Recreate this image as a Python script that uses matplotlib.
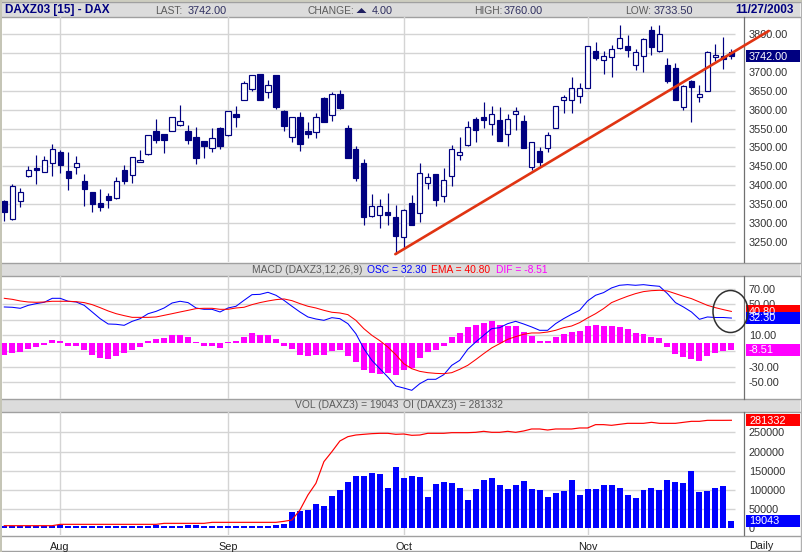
import matplotlib
matplotlib.use("Agg")
import matplotlib.pyplot as plt
from matplotlib.patches import Rectangle, Ellipse, Polygon

plt.rcParams['font.family'] = ['Liberation Sans', 'DejaVu Sans']

opens = [3357,3309,3357,3423,3445,3434,3458,3488,3437,3447,
         3410,3381,3354,3371,3365,3439,3426,3462,3482,3543,
         3535,3543,3559,3543,3527,3516,3498,3552,3532,3590,
         3627,3654,3694,3646,3691,3598,3529,3582,3543,3542,
         3630,3585,3643,3552,3495,3458,3317,3320,3329,3315,
         3262,3354,3325,3407,3429,3370,3423,3479,3506,3575,
         3582,3561,3572,3535,3590,3569,3447,3490,3498,3551,
         3625,3625,3636,3658,3755,3731,3739,3763,3768,3718,
         3742,3811,3757,3720,3712,3606,3675,3635,3651,3739,
         3742,3752]
closes = [3330,3397,3381,3439,3441,3466,3495,3454,3420,3460,
          3391,3349,3343,3361,3410,3412,3476,3468,3532,3521,
          3521,3582,3569,3521,3471,3505,3524,3505,3596,3582,
          3670,3691,3627,3665,3608,3558,3580,3510,3536,3582,
          3568,3643,3605,3473,3420,3316,3344,3344,3322,3266,
          3333,3295,3431,3421,3361,3413,3495,3487,3553,3547,
          3574,3590,3518,3575,3596,3499,3514,3462,3532,3609,
          3633,3657,3659,3768,3738,3742,3760,3789,3759,3752,
          3787,3767,3800,3677,3627,3662,3661,3641,3752,3744,
          3734,3742]
highs = [3361,3403,3392,3451,3480,3477,3509,3493,3488,3477,
         3430,3382,3390,3379,3422,3453,3476,3493,3533,3575,
         3537,3582,3613,3559,3554,3516,3552,3553,3598,3610,
         3676,3693,3696,3679,3692,3599,3582,3593,3567,3592,
         3634,3647,3652,3559,3504,3469,3376,3362,3379,3347,
         3337,3373,3459,3432,3430,3445,3506,3528,3570,3582,
         3620,3610,3606,3590,3607,3586,3515,3501,3541,3611,
         3639,3686,3670,3768,3780,3756,3772,3825,3798,3760,
         3789,3821,3825,3736,3723,3666,3679,3665,3756,3774,
         3793,3760]
lows = [3306,3308,3343,3422,3404,3434,3425,3433,3388,3430,
        3346,3330,3332,3340,3364,3404,3407,3461,3481,3513,
        3486,3543,3558,3510,3457,3473,3489,3497,3531,3555,
        3626,3651,3625,3632,3603,3543,3515,3491,3524,3526,
        3568,3571,3601,3473,3412,3295,3316,3287,3295,3217,
        3232,3295,3303,3391,3346,3356,3399,3467,3505,3515,
        3552,3534,3518,3505,3547,3499,3441,3447,3489,3551,
        3592,3592,3619,3658,3732,3696,3688,3762,3741,3706,
        3701,3744,3752,3670,3626,3599,3568,3621,3651,3730,
        3708,3733.5]

osc_line = [46.5,46.1,44.8,48.6,50.8,52.5,57.6,57.6,53.8,52.9,
            48.6,40.1,31.5,24.7,24.3,23,28.1,31.5,37.9,40.9,
            45.2,51.6,53.8,52.1,45.2,43.5,43.5,40.1,45.2,47.4,
            55,62.3,62.7,65.3,61.5,55,47.4,40.1,33.7,31.1,
            29.4,32.8,31.5,25.1,12.3,-6.9,-21.9,-32.6,-43.2,-54.8,
            -57.4,-60.3,-51.8,-46.2,-46.2,-40.3,-28.3,-21.9,-7.8,1.6,
            10.2,18.7,20,25.1,28.1,24.7,20.9,16.6,16.6,25.1,
            31.5,37.1,42.2,54.2,61.5,64.9,70.9,74.3,75.1,74.3,
            75.1,73.9,73,63.6,52.1,46.5,40.1,30.7,33.7,33,
            33,32.3]
ema_line = [57.6,56.3,54.2,52.9,52.5,52.9,53.8,53.8,53.8,53.3,
            52.1,49.5,45.6,41.4,37.9,35.4,33.2,33.2,33.2,33.7,
            35.8,37.9,40.1,42.2,44.4,44.8,44.8,43.5,43.5,45.2,
            46.1,49.5,52.1,54.2,55.9,56.8,54.6,50.8,47.4,45.2,
            42.2,39.7,38.8,36.7,29.4,18.7,10.2,3.3,-4.8,-14.6,
            -26.2,-32.6,-36,-37.7,-38.6,-39,-37.7,-33.4,-28.3,-21,
            -13.3,-6,-0.5,5,8.5,11.5,13.2,13.2,14.4,16.6,
            20,22.1,26.4,32.4,37.9,44.4,52.1,56.3,60.2,63.6,
            66.2,67.4,67.9,67,63.6,60.2,57.2,52.9,48.6,45.6,
            43.1,40.8]
dif_bars = [-15,-12,-11,-7,-5,-2,4.3,3,-3,-3,
            -8.5,-15,-19,-20,-16,-13,-8.5,-4.7,3,5.6,
            7,10.7,10.7,8,2,-3,-3,-6,1.7,3,
            8,13,10.7,10.7,5.6,-3,-7,-15,-16,-15,
            -15,-10,-8,-16,-24,-34,-38,-39,-38,-41,
            -34,-32,-19,-11,-8.5,-3.4,8,13,21,23.5,
            26,28.6,23.5,22,22,14.5,9.4,3,3,8,
            12,14.5,16,22,23.5,22.6,22.6,21,18.4,13,
            12,8,7,-4.7,-13.7,-17.5,-20,-22.6,-16,-12.4,
            -9.8,-8.51]
volume = [5500,5500,5500,5500,5500,5500,5500,8800,5000,5000,
          5000,5000,5000,5000,5000,5000,5000,5000,5000,8000,
          5000,5000,5000,8000,8000,5000,5000,5000,5000,5000,
          5000,5000,5000,5000,8000,10500,42500,45100,48600,63400,
          58200,84200,99800,120700,136300,136300,144100,141500,105000,159700,
          131100,136300,133700,81600,115400,120700,118000,105000,73800,102400,
          125900,131100,112800,102400,112800,123300,102400,99800,81600,92000,
          97200,125900,86800,102400,102400,112800,112800,105000,86800,79000,
          99800,105000,99800,125900,120700,118000,149300,94600,97200,105000,
          110200,19043]
open_interest = [6900,6900,6900,6900,6900,6900,6900,10400,10400,10400,
                 10400,10400,10400,10400,10400,10400,10400,10400,10400,10400,
                 13000,13000,13000,13000,13000,13000,15600,15600,15600,15600,
                 15600,15600,15600,15600,15600,18200,21700,47700,86800,117200,
                 173600,199600,227400,238700,243000,244800,246500,247400,247400,244800,
                 245600,242200,243000,247400,247400,247400,249100,249100,249100,250000,
                 252600,250000,250000,252600,250000,253500,258700,258700,256000,258700,
                 258700,258700,261300,261300,270000,270000,268200,270800,273400,273400,
                 273400,276000,273400,273400,273400,276000,278600,278600,281200,281200,
                 281200,281332]

price_ticks = [3250,3300,3350,3400,3450,3500,3550,3600,3650,3700,3750,3800]
macd_ticks = [-50,-30,-10,10,30,50,70]
vol_ticks = [0,50000,100000,150000,200000,250000]
hidden_labels = [3750,-10,30]
month_pos = [7,28,50,73]
month_names = ['Aug','Sep','Oct','Nov']
trend_x = [48.94,95.67]
trend_y = [3217,3809]

W, H = 802, 552
NAVY = '#000080'
GRID = '#d4d4d4'
GREY = '#5c5c5c'
BAND = '#dcdcdc'
EDGE = '#a0a0a0'
xs = list(range(len(closes)))

fig = plt.figure(figsize=(W/100, H/100), dpi=100, facecolor='white')

def overlay(z):
    a = fig.add_axes([0, 0, 1, 1], zorder=z)
    a.set_xlim(0, W); a.set_ylim(H, 0); a.axis('off')
    a.patch.set_alpha(0)
    return a

bg = overlay(0)
fg = overlay(10)
XL, XR = (2-4.3)/7.99, (744-4.3)/7.99

def panel(ytop, ybot, lim, ticks, fmt):
    ax = fig.add_axes([2/W, 1-ybot/H, 742/W, (ybot-ytop)/H], zorder=2)
    ax.patch.set_alpha(0)
    ax.set_xlim(XL, XR); ax.set_ylim(*lim)
    for s in ['left', 'top', 'bottom']:
        ax.spines[s].set_visible(False)
    ax.spines['right'].set_color('#707070'); ax.spines['right'].set_linewidth(0.9)
    ax.yaxis.tick_right()
    ax.set_yticks(ticks)
    ax.set_yticklabels(['' if t in hidden_labels else fmt(t) for t in ticks])
    ax.tick_params(axis='y', length=0, pad=3.5, labelsize=7.8, labelcolor='#303030')
    ax.set_xticks(month_pos); ax.set_xticklabels([])
    ax.tick_params(axis='x', length=0)
    ax.grid(axis='x', color=GRID, lw=1.0)
    ax.set_axisbelow(True)
    ax.hlines([t for t in ticks if t != 0], XL, 91.45, color=GRID, lw=1.0, zorder=0.5)
    return ax

ax1 = panel(17, 262, (3196.2, 3846), price_ticks, lambda t: f'{t:.2f}')
ax2 = panel(276, 398.5, (-70.8, 86.2), macd_ticks, lambda t: f'{t:.2f}')
ax3 = panel(412, 535, (-17360, 302900), vol_ticks, lambda t: f'{t}')

# Candles
ax1.vlines(xs, lows, highs, color=NAVY, lw=0.85, zorder=2)
for x, o, c in zip(xs, opens, closes):
    up = c >= o
    ax1.bar(x, abs(c-o), bottom=min(o, c), width=0.66,
            facecolor='white' if up else NAVY, edgecolor=NAVY, lw=0.85, zorder=3)
ax1.plot(trend_x, trend_y, color='#e03412', lw=1.9, clip_on=False, zorder=6,
         solid_capstyle='round')

# MACD
ax2.bar(xs, dif_bars, width=0.75, color='#ff00ff', zorder=2)
ax2.plot(xs, osc_line, color='#0000ff', lw=0.75, zorder=3)
ax2.plot(xs, ema_line, color='#ff0000', lw=0.75, zorder=4)

# Volume
ax3.bar(xs, volume, width=0.75, color='#0000ff', zorder=2)
ax3.plot(xs, open_interest, color='#ff0000', lw=0.85, zorder=3)
ax3.set_xticklabels(month_names, fontsize=7.8, color='#202020')
ax3.tick_params(axis='x', pad=5)

# Frame, bands
for top, bot in [(2, 16.5), (263, 275.5), (399, 411.5)]:
    bg.add_patch(Rectangle((2, top), 798, bot-top, facecolor=BAND, edgecolor='none'))
    bg.plot([2, 800], [bot, bot], color=EDGE, lw=1.0)
    bg.plot([2, 800], [top, top], color=EDGE, lw=1.0)
bg.plot([2, 800], [535.5, 535.5], color=EDGE, lw=1.0)
bg.plot([2, 800], [550.5, 550.5], color=EDGE, lw=1.0)
bg.plot([0.8, 0.8], [0, H], color='#c4c4b4', lw=1.4)
bg.plot([800.5, 800.5], [0, H], color='#b0b0b0', lw=1.0)
bg.plot([0, W], [0.7, 0.7], color='#c4c4b4', lw=1.2)

def t(x, y, s, color=GREY, size=7.4, **kw):
    fg.text(x, y, s, color=color, fontsize=size, va='center', ha='left', **kw)

t(5, 10, 'DAXZ03 [15] - DAX', NAVY, 8.5, fontweight='bold')
t(155.3, 10.5, 'LAST:'); t(187.7, 10.5, '3742.00', '#303060', 7.8)
t(308, 10.5, 'CHANGE:'); t(371.7, 10.5, '4.00', '#303060', 7.8)
fg.add_patch(Polygon([[356.5, 13], [366.5, 13], [361.5, 8]], facecolor='#202060', edgecolor='none'))
t(474, 10.5, 'HIGH:'); t(504, 10.5, '3760.00', '#303060', 7.8)
t(625, 10.5, 'LOW:'); t(653.7, 10.5, '3733.50', '#303060', 7.8)
t(735.7, 10, '11/27/2003', NAVY, 8.5, fontweight='bold')

t(252, 270, 'MACD (DAXZ3,12,26,9)')
t(366.7, 270, 'OSC = 32.30', '#0000ff')
t(430.7, 270, 'EMA = 40.80', '#ff0000')
t(496, 270, 'DIF = -8.51', '#ff00ff')
t(295, 405.5, 'VOL (DAXZ3) = 19043')
t(403.3, 405.5, 'OI (DAXZ3) = 281332')
t(749, 546, 'Daily', '#202020', 7.8)

def value_box(ax, value, label, color):
    y = H - ax.transData.transform((0, value))[1]
    fg.add_patch(Rectangle((746, y-6), 53.5, 12, facecolor=color, edgecolor='none'))
    fg.text(749, y+0.3, label, color='white', fontsize=7.8, va='center', ha='left')

value_box(ax1, closes[-1], '3742.00', NAVY)
value_box(ax2, ema_line[-1], '40.80', '#ff0000')
value_box(ax2, osc_line[-1], '32.30', '#0000ff')
value_box(ax2, dif_bars[-1], '-8.51', '#ff00ff')
value_box(ax3, open_interest[-1], '281332', '#ff0000')
value_box(ax3, volume[-1], '19043', '#0000ff')

fg.add_patch(Ellipse((730.5, 311.5), 35, 42, facecolor='none', edgecolor='#303030', lw=1.1))

fig.savefig('out.png', dpi=100, facecolor='white')
